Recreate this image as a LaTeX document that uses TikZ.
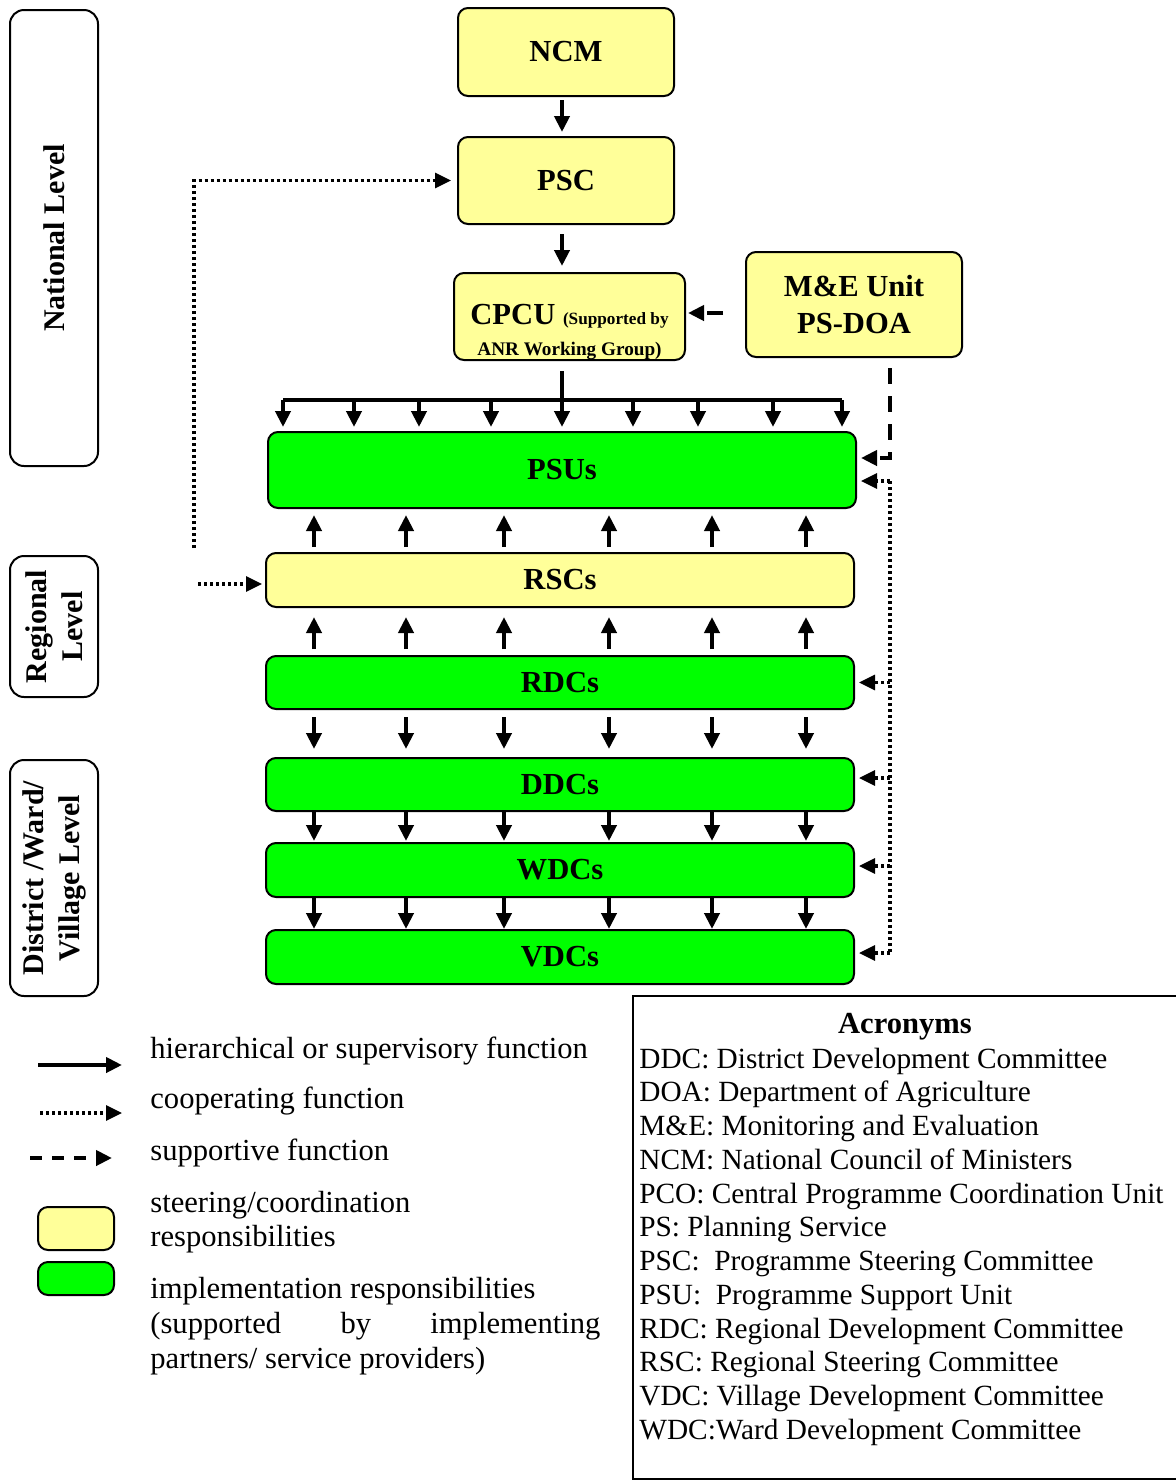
\documentclass[tikz,border=0pt]{standalone}
\usepackage{fontspec}
\setmainfont{Liberation Serif}
\usetikzlibrary{arrows.meta,positioning,calc}
\definecolor{steeryellow}{HTML}{FFFF99}
\definecolor{implgreen}{HTML}{00FF00}

\begin{document}
\begin{tikzpicture}[
    x=0.5pt, y=-0.5pt,
    box/.style={draw=black, line width=1pt, rounded corners=5pt, inner sep=0pt, align=center, font=\fontsize{15.3}{18.5}\selectfont\bfseries},
    steer/.style={box, fill=steeryellow},
    impl/.style={box, fill=implgreen},
    lvl/.style={draw=black, line width=1pt, rounded corners=7pt, inner sep=0pt, align=center, rotate=90, minimum height=44pt, font=\fontsize{15}{18}\selectfont\bfseries},
    hier/.style={-{Triangle[width=7.5pt,length=8pt]}, line width=2pt},
    coop/.style={-{Triangle[width=7.5pt,length=8pt]}, line width=1.6pt, dash pattern=on 1.6pt off 1.4pt},
    supp/.style={-{Triangle[width=7.5pt,length=8pt]}, line width=2pt, dash pattern=on 8pt off 6pt},
    txt/.style={anchor=base west, inner sep=0pt, font=\fontsize{15.3}{17.5}\selectfont},
    acr/.style={anchor=base west, inner sep=0pt, font=\fontsize{14.65}{17}\selectfont}
]
\useasboundingbox (0,0) rectangle (1176,1484);

% level boxes on the left
\node[lvl, minimum width=228pt] (natl) at (54,238) {National Level};
\node[lvl, minimum width=70.5pt] (regl) at (54,626.5) {Regional\\Level};
\node[lvl, minimum width=118pt] (distl) at (54,878) {District /Ward/\\Village Level};

% national bodies
\node[steer, minimum width=108pt, minimum height=44pt] (ncm) at (566,52) {NCM};
\node[steer, minimum width=108pt, minimum height=43.5pt] (psc) at (566,180.5) {PSC};
\node[steer, minimum width=115.5pt, minimum height=43.5pt] (cpcu) at (569.5,316.5)
    {\rule{0pt}{25.5pt}CPCU {\fontsize{8.6}{10}\selectfont (Supported by}\\[-3pt]{\fontsize{9.6}{10}\selectfont ANR Working Group)}};
\node[steer, minimum width=108pt, minimum height=52.5pt] (me) at (854,304.5) {M\&E Unit\\PS-DOA};

% regional and local bodies
\node[impl, minimum width=294pt, minimum height=38pt] (psu) at (562,470) {PSUs};
\node[steer, minimum width=294pt, minimum height=27pt] (rsc) at (560,580) {RSCs};
\node[impl, minimum width=294pt, minimum height=26.5pt] (rdc) at (560,682.5) {RDCs};
\node[impl, minimum width=294pt, minimum height=26.5pt] (ddc) at (560,784.5) {DDCs};
\node[impl, minimum width=294pt, minimum height=27pt] (wdc) at (560,870) {WDCs};
\node[impl, minimum width=294pt, minimum height=27pt] (vdc) at (560,957) {VDCs};

% hierarchy at national level
\draw[hier, shorten <=1.5pt, shorten >=2pt] (ncm.south -| 562,0) -- (psc.north -| 562,0);
\draw[hier, shorten <=4.5pt, shorten >=3pt] (psc.south -| 562,0) -- (cpcu.north -| 562,0);

% distribution bar CPCU -> PSUs
\coordinate (barmid) at (562,400);
\coordinate (barL) at (283,400);
\coordinate (barR) at (842,400);
\draw[line width=2pt, shorten <=5pt] (cpcu.south -| barmid) -- (barmid);
\draw[line width=2pt] (barL) -- (barR);
\foreach \x in {283,354,419,491,562,633,698,773,842}
    \draw[hier, shorten >=2pt] (barL -| \x,0) -- (psu.north -| \x,0);

% arrows between the rows
\foreach \x in {314,406,504,609,712,806} {
    \draw[hier, shorten <=2.5pt, shorten >=3pt] (rsc.north -| \x,0) -- (psu.south -| \x,0);
    \draw[hier, shorten <=3pt, shorten >=4.5pt] (rdc.north -| \x,0) -- (rsc.south -| \x,0);
    \draw[hier, shorten <=3.5pt, shorten >=4pt] (rdc.south -| \x,0) -- (ddc.north -| \x,0);
    \draw[hier, shorten >=0.5pt] (ddc.south -| \x,0) -- (wdc.north -| \x,0);
    \draw[hier] (wdc.south -| \x,0) -- (vdc.north -| \x,0);
}

% supportive function of M&E unit
\draw[supp, shorten <=11pt, shorten >=1pt] (me.west |- 0,313) -- (cpcu.east |- 0,313);
\draw[supp, shorten <=5pt, shorten >=2pt] (me.south -| 890,0) |- ([yshift=6pt]psu.east);

% cooperating functions
\coordinate (coopL) at (194,548);
\coordinate (coopR) at (198,584);
\draw[coop, shorten >=3pt] (coopL) |- (psc.west);
\draw[coop, shorten >=1.5pt] (coopR) -- (rsc.west |- coopR);
\coordinate (busT) at (890,481);
\coordinate (busB) at (890,953);
\draw[line width=1.6pt, dash pattern=on 1.6pt off 1.4pt] (busT) -- (busB);
\draw[coop, shorten >=2pt] (busT) -- ([yshift=-5.5pt]psu.east);
\draw[coop, shorten >=2pt] (busT |- rdc.east) -- (rdc.east);
\draw[coop, shorten >=2pt] (busT |- 0,778) -- (ddc.east |- 0,778);
\draw[coop, shorten >=2pt] (busT |- 0,866) -- (wdc.east |- 0,866);
\draw[coop, shorten >=2pt] (busB) -- (vdc.east |- busB);

% legend
\coordinate (lgHa) at (38,1065);
\coordinate (lgHb) at (122,1065);
\coordinate (lgCa) at (40,1113);
\coordinate (lgCb) at (122,1113);
\coordinate (lgSa) at (30,1158);
\coordinate (lgSb) at (112,1158);
\draw[hier] (lgHa) -- (lgHb);
\draw[coop] (lgCa) -- (lgCb);
\draw[supp, dash pattern=on 6pt off 5pt] (lgSa) -- (lgSb);
\node[steer, minimum width=38pt, minimum height=21.5pt] (lgsteer) at (76,1228.5) {};
\node[impl, minimum width=38pt, minimum height=16.5pt] (lgimpl) at (76,1278.5) {};
\node[txt] (lgt1) at (150,1058) {hierarchical or supervisory function};
\node[txt] (lgt2) at (150,1108) {cooperating function};
\node[txt] (lgt3) at (150,1160) {supportive function};
\node[txt] (lgt4) at (150,1212) {steering/coordination};
\node[txt] (lgt5) at (150,1246) {responsibilities};
\node[txt] (lgt6) at (150,1298) {implementation responsibilities};
\node[txt] (lgt7) at (150,1333) {\hbox to 225pt{(supported\hfill by\hfill implementing}};
\node[txt] (lgt8) at (150,1368) {partners/ service providers)};

% acronyms
\draw[line width=1pt] (1176,996) -| (633,1479) -- (1176,1479);
\node[anchor=base, inner sep=0pt, font=\fontsize{15.3}{17}\selectfont\bfseries] (acrtitle) at (905,1033) {Acronyms};
\foreach \t [count=\i from 0] in {DDC: District Development Committee,
    DOA: Department of Agriculture, M\&E: Monitoring and Evaluation,
    NCM: National Council of Ministers, PCO: Central Programme Coordination Unit,
    PS: Planning Service, PSC:\ \ Programme Steering Committee,
    PSU:\ \ Programme Support Unit, RDC: Regional Development Committee,
    RSC: Regional Steering Committee, VDC: Village Development Committee,
    WDC:Ward Development Committee}
    \node[acr] (acr\i) at (639,{1068+33.75*\i}) {\t};

\end{tikzpicture}
\end{document}
